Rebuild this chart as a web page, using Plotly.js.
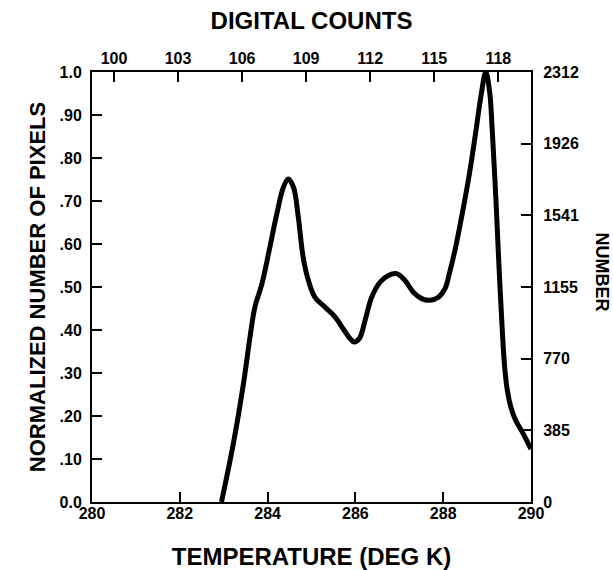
<!DOCTYPE html>
<html>
<head>
<meta charset="utf-8">
<script src="https://cdn.plot.ly/plotly-3.0.1.min.js"></script>
<style>
html, body { margin: 0; padding: 0; background: #ffffff; }
#chart { width: 613px; height: 570px; }
</style>
</head>
<body>
<div id="chart"></div>
<script>
// Temperature (deg K) along the curve
var temperature = [282.95, 283.22, 283.45, 283.60, 283.71, 283.87, 284.05, 284.21, 284.36, 284.47,
  284.59, 284.70, 284.81, 284.93, 285.08, 285.31, 285.54, 285.72, 285.88, 285.97,
  286.09, 286.22, 286.37, 286.56, 286.75, 286.94, 287.13, 287.32, 287.51, 287.70,
  287.89, 288.04, 288.14, 288.29, 288.44, 288.59, 288.74, 288.86, 288.97, 289.06,
  289.12, 289.20, 289.27, 289.35, 289.40, 289.46, 289.54, 289.65, 289.80, 290.00];
// Normalized number of pixels
var normalized = [0.00, 0.136, 0.275, 0.384, 0.453, 0.507, 0.592, 0.67, 0.732, 0.751,
  0.732, 0.662, 0.569, 0.515, 0.476, 0.453, 0.43, 0.403, 0.38, 0.372,
  0.38, 0.422, 0.476, 0.511, 0.527, 0.531, 0.515, 0.488, 0.473, 0.469,
  0.476, 0.496, 0.531, 0.596, 0.674, 0.759, 0.859, 0.944, 1.00, 0.952,
  0.859, 0.705, 0.55, 0.391, 0.314, 0.26, 0.221, 0.19, 0.163, 0.123];

var tempTicks = [280, 282, 284, 286, 288, 290];
var normTickVals = [0, 0.1, 0.2, 0.3, 0.4, 0.5, 0.6, 0.7, 0.8, 0.9, 1.0];
var normTickText = ['0.0', '.10', '.20', '.30', '.40', '.50', '.60', '.70', '.80', '.90', '1.0'];
var countTicks = [100, 103, 106, 109, 112, 115, 118];
var countRange = [98.97, 119.53];
var numberTicks = [0, 385, 770, 1155, 1541, 1926, 2312];

var FONT = 'Liberation Sans, Arial, Helvetica, sans-serif';
var tickFont = {family: FONT, size: 16, color: '#000', weight: 'bold'};
var titleFont = {family: FONT, size: 22, color: '#000', weight: 'bold'};

var traces = [
  {
    x: temperature, y: normalized, type: 'scatter', mode: 'lines',
    line: {color: '#000', width: 5, shape: 'spline', smoothing: 1},
    hoverinfo: 'x+y', showlegend: false
  },
  {
    x: countTicks, y: numberTicks, xaxis: 'x2', yaxis: 'y2', type: 'scatter', mode: 'markers',
    marker: {opacity: 0, size: 1}, hoverinfo: 'skip', showlegend: false
  }
];

var axisCommon = {
  showgrid: false, zeroline: false, showline: true, linecolor: '#000', linewidth: 2,
  ticks: 'inside', ticklen: 10, tickwidth: 2, tickcolor: '#000', tickfont: tickFont,
  fixedrange: true
};

var layout = {
  width: 613, height: 570,
  margin: {l: 92, r: 82, t: 72, b: 68, pad: 0},
  paper_bgcolor: '#fff', plot_bgcolor: '#fff',
  showlegend: false,
  xaxis: Object.assign({}, axisCommon, {
    range: [280, 290], autorange: false, tickvals: tempTicks,
    ticktext: tempTicks.map(String), ticklabelstandoff: -4,
    title: {text: 'TEMPERATURE (DEG K)', font: Object.assign({}, titleFont, {size: 24}), standoff: 28}
  }),
  xaxis2: Object.assign({}, axisCommon, {
    overlaying: 'x', side: 'top', anchor: 'y',
    range: countRange, autorange: false, tickvals: countTicks,
    ticktext: countTicks.map(String), ticklabelstandoff: 0,
    title: {text: 'DIGITAL COUNTS', font: Object.assign({}, titleFont, {size: 24}), standoff: 13}
  }),
  yaxis: Object.assign({}, axisCommon, {
    range: [0, 1], autorange: false, tickvals: normTickVals, ticktext: normTickText,
    ticklabelstandoff: 5,
    title: {text: 'NORMALIZED NUMBER OF PIXELS', font: titleFont, standoff: 8}
  }),
  yaxis2: Object.assign({}, axisCommon, {
    overlaying: 'y', side: 'right', anchor: 'x',
    range: [0, 2312], autorange: false, tickvals: numberTicks,
    ticktext: numberTicks.map(String), ticklabelstandoff: 7
  }),
  annotations: [{
    text: 'NUMBER', textangle: 90, showarrow: false,
    xref: 'paper', yref: 'paper', x: 1, y: 0.536, xanchor: 'center', yanchor: 'middle',
    xshift: 71, font: {family: FONT, size: 18, color: '#000', weight: 'bold'}
  }]
};

Plotly.newPlot('chart', traces, layout, {displayModeBar: false, staticPlot: true});
</script>
</body>
</html>
